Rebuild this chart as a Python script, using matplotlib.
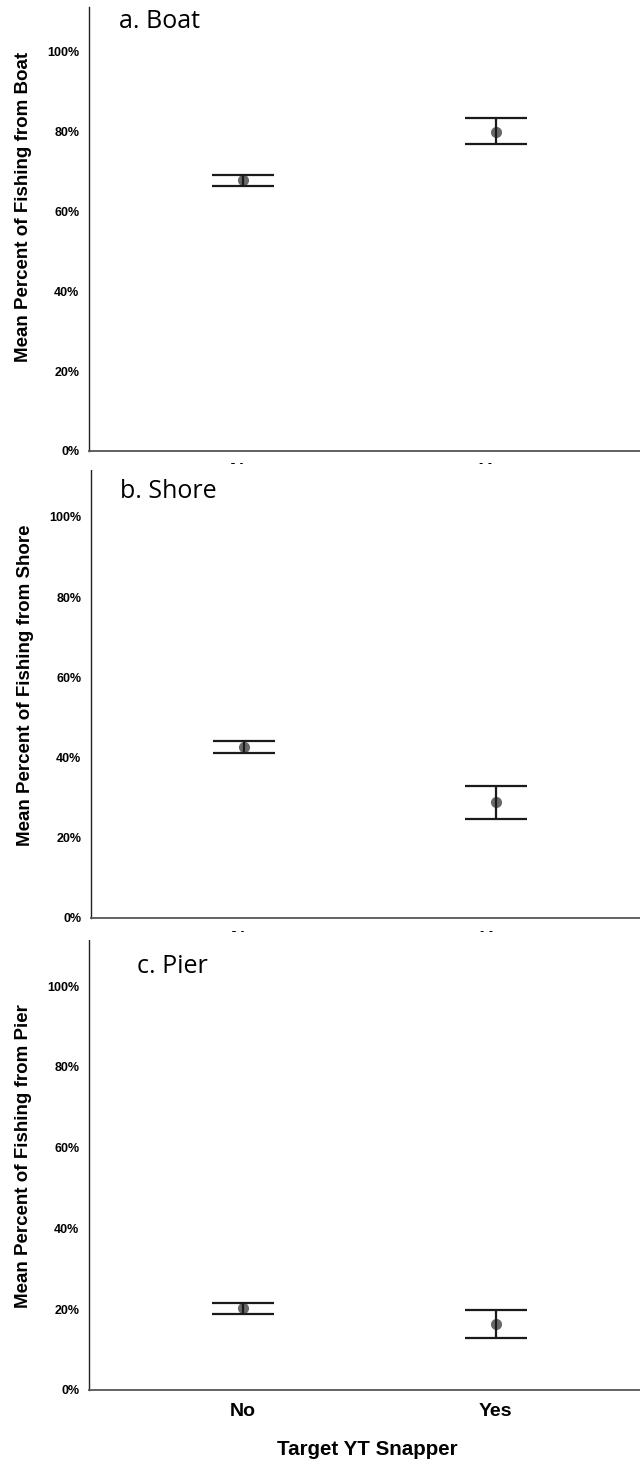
import matplotlib
matplotlib.use("Agg")
import matplotlib.pyplot as plt
from matplotlib.patches import Rectangle
from matplotlib.ticker import FuncFormatter

categories = ["No", "Yes"]
panel_titles = ["a. Boat", "b. Shore", "c. Pier"]
ylabels = ["Mean Percent of Fishing from Boat",
           "Mean Percent of Fishing from Shore",
           "Mean Percent of Fishing from Pier"]

# means and error bar limits (percent)
boat_mean = [67.8, 79.8]
boat_low = [66.3, 76.7]
boat_high = [69.1, 83.2]

shore_mean = [42.6, 28.9]
shore_low = [41.1, 24.7]
shore_high = [44.1, 32.9]

pier_mean = [20.2, 16.3]
pier_low = [18.9, 12.9]
pier_high = [21.6, 19.8]

yticks = [0, 20, 40, 60, 80, 100]

fig = plt.figure(figsize=(6.4, 14.62), dpi=100)

# axes boxes in pixels: left, top, bottom, ymax
boxes = [(89, 7, 451, 111.0), (91, 470, 918, 111.7), (89, 940, 1390, 111.4)]
title_pos = [(0.054, 0.968), (0.053, 0.953), (0.087, 0.942)]
label_y = [0.55, 0.52, 0.52]
data = [(boat_mean, boat_low, boat_high),
        (shore_mean, shore_low, shore_high),
        (pier_mean, pier_low, pier_high)]

W, H = 640, 1462
axes = []
for i, (left, top, bottom, ymax) in enumerate(boxes):
    ax = fig.add_axes([left / W, 1 - bottom / H, (W - left) / W + 0.01, (bottom - top) / H])
    axes.append(ax)
    mean, low, high = data[i]
    xs = list(range(len(categories)))
    err = [[m - l for m, l in zip(mean, low)], [h - m for m, h in zip(mean, high)]]
    ax.plot(xs, mean, "o", color="#686868", markersize=7, zorder=2)
    ax.errorbar(xs, mean, yerr=err, fmt="none", ecolor="#1a1a1a", elinewidth=1.6,
                capsize=22.5, capthick=1.6, zorder=3)
    ax.set_xlim(-0.608, 1.596)
    ax.set_ylim(0, ymax)
    ax.set_yticks(yticks)
    ax.yaxis.set_major_formatter(FuncFormatter(lambda v, p: "%d%%" % v))
    ax.set_xticks(xs)
    ax.set_xticklabels(categories)
    ax.tick_params(axis="both", length=0)
    ax.tick_params(axis="y", pad=7, labelsize=9)
    ax.tick_params(axis="x", pad=9, labelsize=14)
    for lab in ax.get_yticklabels() + ax.get_xticklabels():
        lab.set_fontweight("bold")
        lab.set_fontfamily("Liberation Sans")
    ax.spines["top"].set_visible(False)
    ax.spines["right"].set_visible(False)
    ax.spines["left"].set_color("#222222")
    ax.spines["left"].set_linewidth(1.0)
    ax.spines["bottom"].set_color("#555555")
    ax.spines["bottom"].set_linewidth(1.3)
    ax.set_ylabel(ylabels[i], fontsize=13.5, fontweight="bold", family="Liberation Sans")
    ax.yaxis.set_label_coords(-0.103, label_y[i])
    ax.text(title_pos[i][0], title_pos[i][1], panel_titles[i], transform=ax.transAxes,
            fontsize=18, family="Open Sans", va="center", ha="left")

axes[2].set_xlabel("Target YT Snapper", fontsize=14.8, fontweight="bold",
                   family="Liberation Sans", labelpad=15)

# panels overlap: the lower panel hides most of the upper panel's tick labels
for y0, y1 in [(464, 470), (932, 940)]:
    fig.add_artist(Rectangle((0, 1 - y1 / H), 1, (y1 - y0) / H, transform=fig.transFigure,
                             facecolor="white", edgecolor="none", zorder=5))

fig.savefig("out.png", dpi=100)
